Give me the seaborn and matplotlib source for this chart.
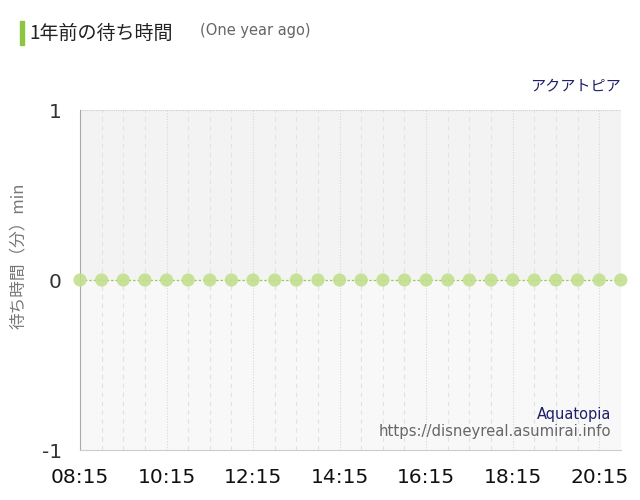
import numpy as np
import pandas as pd
import matplotlib
matplotlib.use("Agg")
import matplotlib.pyplot as plt
import seaborn as sns

# one point every 30 minutes, 08:15 -> 20:45
times = ["08:15", "08:45", "09:15", "09:45", "10:15", "10:45", "11:15", "11:45",
         "12:15", "12:45", "13:15", "13:45", "14:15", "14:45", "15:15", "15:45",
         "16:15", "16:45", "17:15", "17:45", "18:15", "18:45", "19:15", "19:45",
         "20:15", "20:45"]
waits = [0, 0, 0, 0, 0, 0, 0, 0, 0, 0, 0, 0, 0, 0, 0, 0, 0, 0, 0, 0, 0, 0, 0, 0, 0, 0]
tick_labels = ["08:15", "10:15", "12:15", "14:15", "16:15", "18:15", "20:15"]
y_ticks = [-1, 0, 1]


def to_min(t):
    h, m = t.split(":")
    return int(h) * 60 + int(m)


df = pd.DataFrame({"time": times, "wait": waits})
df["minute"] = df["time"].apply(to_min)

sns.set_style("white")
plt.rcParams['font.family'] = ['DejaVu Sans', 'Noto Sans CJK JP']
latin = ['DejaVu Sans']

fig = plt.figure(figsize=(6.4, 5), dpi=100)
ax = fig.add_axes([0.125, 0.1, 0.845, 0.68])

xmin, xmax = df["minute"].min(), df["minute"].max()
ax.set_xlim(xmin, xmax)
ax.set_ylim(-1, 1)

# two background bands
ax.axhspan(0, 1, color="#f3f3f3", zorder=0)
ax.axhspan(-1, 0, color="#f8f8f8", zorder=0)

# vertical grid
major = [to_min(t) for t in tick_labels]
for m in df["minute"]:
    if m in major:
        ax.axvline(m, color="#d8d8d8", lw=0.8, ls=(0, (1, 1.5)), zorder=1)
    else:
        ax.axvline(m, color="#e2e2e2", lw=0.8, ls=(0, (4, 4)), zorder=1)
ax.axhline(1, color="#cccccc", lw=0.8, ls=(0, (1, 1)), zorder=1)

sns.lineplot(data=df, x="minute", y="wait", ax=ax, color="#9ccc4a", lw=0.9,
             linestyle=(0, (2, 1.5)), zorder=3)
sns.scatterplot(data=df, x="minute", y="wait", ax=ax, color="#c2df8e", s=90,
                edgecolor="none", alpha=0.9, zorder=4, clip_on=False)

ax.set_xticks(major)
ax.set_xticklabels(tick_labels, fontsize=14.5, color="#111111", family=latin)
ax.set_yticks(y_ticks)
ax.set_yticklabels([str(v) for v in y_ticks], fontsize=14.5, color="#333333",
                   family=latin)
ax.tick_params(axis="x", length=0, pad=13)
ax.tick_params(axis="y", length=0, pad=13)
ax.set_xlabel("")
ax.set_ylabel("")
fig.text(18 / 640, 1 - 256 / 500, "待ち時間（分）min", fontsize=12, color="#777777",
         rotation=90, ha="center", va="center",
         family=['Noto Sans CJK JP', 'DejaVu Sans'])

for s in ["top", "right"]:
    ax.spines[s].set_visible(False)
ax.spines["left"].set_color("#aaaaaa")
ax.spines["left"].set_linewidth(0.8)
ax.spines["bottom"].set_color("#cccccc")
ax.spines["bottom"].set_linewidth(0.8)
ax.spines["bottom"].set_linestyle((0, (1, 1)))

# texts
ax.text(1.0, 1.07, "アクアトピア", transform=ax.transAxes, ha="right", va="center",
        fontsize=10.9, color="#1f1f6b", family=['Noto Sans CJK JP'])
ax.text(0.983, 0.105, "Aquatopia", transform=ax.transAxes, ha="right", va="center",
        fontsize=10.5, color="#1f1f6b", family=latin)
ax.text(0.983, 0.055, "https://disneyreal.asumirai.info", transform=ax.transAxes,
        ha="right", va="center", fontsize=10.7, color="#666666", family=latin)

# title with green bar
fig.patches.append(plt.Rectangle((20 / 640, 1 - 45 / 500), 4 / 640, 24 / 500,
                                 transform=fig.transFigure, color="#8cc63f"))
fig.text(29 / 640, 1 - 33 / 500, "1年前の待ち時間", fontsize=13.7, color="#222222",
         va="center", family=['Noto Sans CJK JP', 'DejaVu Sans'])
fig.text(200 / 640, 1 - 31 / 500, "(One year ago)", fontsize=10.5, color="#666666",
         va="center", family=latin)

fig.savefig("out.png", dpi=100)
